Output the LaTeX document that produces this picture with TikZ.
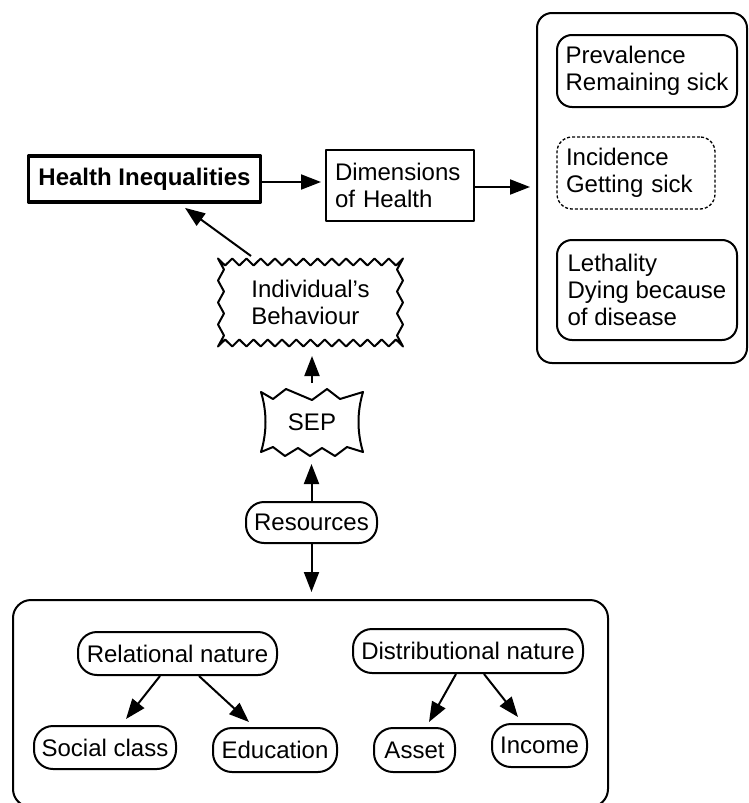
\documentclass[tikz,border=0pt]{standalone}
\usepackage{fontspec}
\setmainfont{Liberation Sans}
\usetikzlibrary{arrows.meta,calc}

\begin{document}
\begin{tikzpicture}[x=1pt,y=-1pt,
  every node/.style={font=\fontsize{24}{27}\selectfont},
  line width=2pt, line join=round,
  arr/.style={-{Triangle[length=20pt,width=15pt]}, line width=2pt},
  plainbox/.style={draw, rectangle, inner xsep=9pt, inner ysep=0pt, align=left},
  roundbox/.style={draw, rounded corners=15pt, inner sep=0pt, align=left},
  pill/.style={draw, rounded corners=19pt, inner sep=0pt},
  frame/.style={draw, rounded corners=18pt, inner sep=0pt},
]
\useasboundingbox (0,0) rectangle (748,803);

% ---- top row ----
\node[draw, line width=3.8pt, inner sep=0pt, minimum width=232pt, minimum height=46pt,
      font=\bfseries\fontsize{24}{27}\selectfont] (hi) at (144.5,179) {Health Inequalities};
\node[plainbox, text width=130pt, minimum width=148pt, minimum height=71pt] (dim) at (400,185.5)
  {Dimensions\\of Health};

% ---- dimensions panel ----
\node[frame, rounded corners=15pt, minimum width=210pt, minimum height=350pt] (dims) at (642,188) {};
\node[roundbox, minimum width=180pt, minimum height=72pt] (prev) at (647,71)
  {Prevalence\\Remaining sick};
\node[roundbox, dash pattern=on 3pt off 2pt, line width=1.3pt, inner xsep=9pt, text width=140pt,
      minimum width=158pt, minimum height=72pt] (inc) at (636,173)
  {Incidence\\Getting sick};
\node[roundbox, minimum width=180pt, minimum height=100pt] (leth) at (647,290)
  {Lethality\\Dying because\\of disease};

% ---- behaviour (jagged outline) ----
\node[inner sep=0pt, minimum width=185pt, minimum height=85pt, align=left] (indiv) at (310.5,302.5)
  {Individual’s\\Behaviour};
\begin{scope}[shift={(indiv.center)}]
  \draw (-92.5,-44)
    \foreach \i in {1,...,26} { -- ({-92.5+\i*185/26}, {-44+7*mod(\i,2)}) }
    \foreach \i in {1,...,8}  { -- ({92.5-6*mod(\i,2)}, {-44+\i*88/8}) }
    \foreach \i in {1,...,26} { -- ({92.5-\i*185/26}, {44-7*mod(\i,2)}) }
    \foreach \i in {1,...,8}  { -- ({-92.5+6*mod(\i,2)}, {44-\i*88/8}) }
    -- cycle;
\end{scope}

% ---- SEP (torn outline) ----
\node[inner sep=0pt, minimum width=102pt, minimum height=60pt] (sep) at (312,422) {SEP};
\begin{scope}[shift={(sep.center)}]
  \draw (-51,-30) -- (-39,-23) -- (-26,-33) -- (0,-22) -- (15,-33) -- (28,-23) -- (51,-30)
        .. controls (45,-10) and (45,10) .. (51,30)
        -- (35,25) -- (23,34) -- (10,26) -- (-2,34) -- (-14,26) -- (-27,34) -- (-39,25) -- (-51,30)
        .. controls (-45,10) and (-45,-10) .. cycle;
\end{scope}

\node[pill, minimum width=131pt, minimum height=41pt, rounded corners=18pt] (res) at (311.5,522.5) {Resources};

% ---- resources panel ----
\node[frame, minimum width=595pt, minimum height=207pt] (respanel) at (310.5,703.5) {};
\node[pill, minimum width=199pt, minimum height=43pt] (rel) at (177.5,653.5) {Relational nature};
\node[pill, minimum width=230pt, minimum height=44pt] (dist) at (468,651) {Distributional nature};
\node[pill, minimum width=142pt, minimum height=43pt] (soc) at (105,747.5) {Social class};
\node[pill, minimum width=124pt, minimum height=44pt] (edu) at (275,750) {Education};
\node[pill, minimum width=81pt, minimum height=44pt] (asset) at (414.5,750) {Asset};
\node[pill, minimum width=95pt, minimum height=43pt] (income) at (539.5,745.5) {Income};

% ---- connectors ----
\draw[arr, shorten >=4pt] ([yshift=-3pt]hi.east) -- ([yshift=-3pt]hi.east -| dim.west);
\draw[arr, shorten >=6pt] ([yshift=-1.5pt]dim.east) -- ([yshift=-1.5pt]dim.east -| dims.west);
\draw[arr] ([xshift=34pt,yshift=3pt]indiv.north west) -- ([xshift=40.5pt,yshift=-4pt]hi.south);
\draw[arr, shorten <=8pt, shorten >=10pt] (sep.north) -- (sep.north |- indiv.south);
\draw[arr, shorten >=11pt] (res.north) -- (res.north |- sep.south);
\draw[arr, shorten >=7pt] (res.south) -- (res.south |- respanel.north);
\draw[arr] ([xshift=-17.5pt]rel.south) -- ([xshift=21pt,yshift=6pt]soc.north);
\draw[arr] ([xshift=21.5pt]rel.south) -- ([xshift=-26pt,yshift=5pt]edu.north);
\draw[arr] ([xshift=-12pt]dist.south) -- ([xshift=14.5pt,yshift=5pt]asset.north);
\draw[arr] ([xshift=16pt]dist.south) -- ([xshift=-21.5pt,yshift=6pt]income.north);
\end{tikzpicture}
\end{document}
